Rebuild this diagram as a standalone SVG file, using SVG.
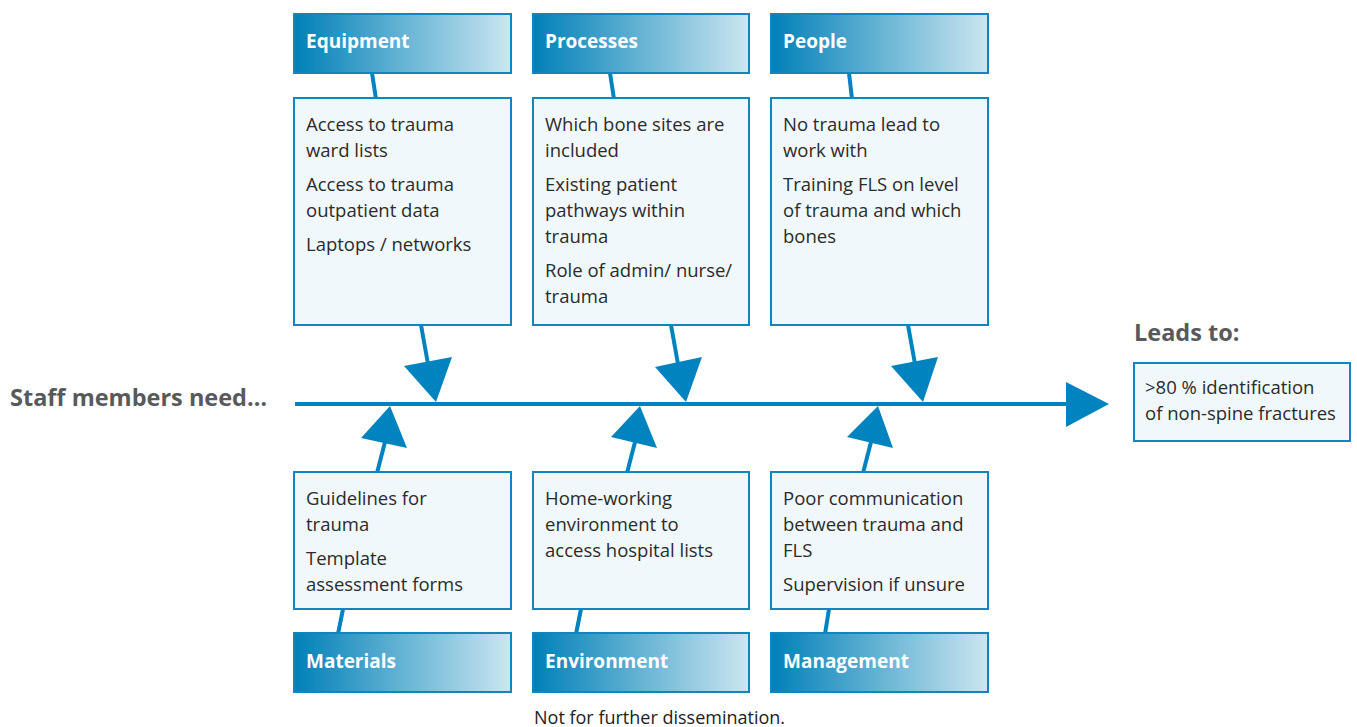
<svg xmlns="http://www.w3.org/2000/svg" width="1357" height="727" viewBox="0 0 1357 727">
<defs>
<linearGradient id="hg" x1="0" y1="0" x2="1" y2="0">
<stop offset="0" stop-color="#0080B8"/>
<stop offset="1" stop-color="#CBE6F0"/>
</linearGradient>
<style>
.hdr{fill:url(#hg);stroke:#1186BE;stroke-width:2}
.body{fill:#F0F8FB;stroke:#1186BE;stroke-width:2}
.ht{font-family:"Open Sans","Liberation Sans",sans-serif;font-weight:700;font-size:19px;fill:#fff}
.bt{font-family:"Open Sans","Liberation Sans",sans-serif;font-size:18.5px;fill:#2b2b2b}
.lbl{font-family:"Open Sans","Liberation Sans",sans-serif;font-weight:700;font-size:23.5px;fill:#58595b}
.ln{stroke:#0083BE;stroke-width:4;fill:none}
.ah{fill:#0083BE}
</style>
</defs>
<g id="connectors">
<line class="ln" x1="295" y1="404" x2="1072" y2="404"/>
<polygon class="ah" points="1066,382 1109,404 1066,427"/>
<line class="ln" x1="372" y1="73" x2="376" y2="99"/>
<line class="ln" x1="610" y1="73" x2="614" y2="99"/>
<line class="ln" x1="849" y1="73" x2="852" y2="99"/>
<line class="ln" x1="421" y1="325" x2="428" y2="364"/>
<polygon class="ah" points="404,366 452,357 436,402"/>
<line class="ln" x1="671" y1="325" x2="678" y2="364"/>
<polygon class="ah" points="655,367 702,357 686,402"/>
<line class="ln" x1="908" y1="325" x2="915" y2="364"/>
<polygon class="ah" points="891,366 938,357 923,402"/>
<polygon class="ah" points="390,406 361,438 407,448"/>
<line class="ln" x1="385" y1="442" x2="377" y2="473"/>
<polygon class="ah" points="640,406 611,437 657,448"/>
<line class="ln" x1="635" y1="442" x2="627" y2="473"/>
<polygon class="ah" points="878,406 847,437 893,448"/>
<line class="ln" x1="871" y1="442" x2="863" y2="473"/>
<line class="ln" x1="343" y1="609" x2="338" y2="634"/>
<line class="ln" x1="581" y1="609" x2="576" y2="634"/>
<line class="ln" x1="829" y1="609" x2="825" y2="634"/>
</g>
<g id="equipment">
<rect class="hdr" x="294" y="14" width="217" height="59"/>
<text class="ht" x="306" y="48">Equipment</text>
<rect class="body" x="294" y="98" width="217" height="227"/>
<text class="bt" x="306"><tspan x="306" y="131">Access to trauma</tspan><tspan x="306" y="157">ward lists</tspan><tspan x="306" y="191">Access to trauma</tspan><tspan x="306" y="217">outpatient data</tspan><tspan x="306" y="251">Laptops / networks</tspan></text>
</g>
<g id="processes">
<rect class="hdr" x="533" y="14" width="216" height="59"/>
<text class="ht" x="545" y="48">Processes</text>
<rect class="body" x="533" y="98" width="216" height="227"/>
<text class="bt"><tspan x="545" y="131">Which bone sites are</tspan><tspan x="545" y="157">included</tspan><tspan x="545" y="191">Existing patient</tspan><tspan x="545" y="217">pathways within</tspan><tspan x="545" y="243">trauma</tspan><tspan x="545" y="277">Role of admin/ nurse/</tspan><tspan x="545" y="303">trauma</tspan></text>
</g>
<g id="people">
<rect class="hdr" x="771" y="14" width="217" height="59"/>
<text class="ht" x="783" y="48">People</text>
<rect class="body" x="771" y="98" width="217" height="227"/>
<text class="bt"><tspan x="783" y="131">No trauma lead to</tspan><tspan x="783" y="157">work with</tspan><tspan x="783" y="191">Training FLS on level</tspan><tspan x="783" y="217">of trauma and which</tspan><tspan x="783" y="243">bones</tspan></text>
</g>
<g id="materials">
<rect class="body" x="294" y="472" width="217" height="137"/>
<text class="bt"><tspan x="306" y="505">Guidelines for</tspan><tspan x="306" y="531">trauma</tspan><tspan x="306" y="565">Template</tspan><tspan x="306" y="591">assessment forms</tspan></text>
<rect class="hdr" x="294" y="633" width="217" height="59"/>
<text class="ht" x="306" y="668">Materials</text>
</g>
<g id="environment">
<rect class="body" x="533" y="472" width="216" height="137"/>
<text class="bt"><tspan x="545" y="505">Home-working</tspan><tspan x="545" y="531">environment to</tspan><tspan x="545" y="557">access hospital lists</tspan></text>
<rect class="hdr" x="533" y="633" width="216" height="59"/>
<text class="ht" x="545" y="668">Environment</text>
</g>
<g id="management">
<rect class="body" x="771" y="472" width="217" height="137"/>
<text class="bt"><tspan x="783" y="505">Poor communication</tspan><tspan x="783" y="531">between trauma and</tspan><tspan x="783" y="557">FLS</tspan><tspan x="783" y="591">Supervision if unsure</tspan></text>
<rect class="hdr" x="771" y="633" width="217" height="59"/>
<text class="ht" x="783" y="668">Management</text>
</g>
<g id="start">
<text class="lbl" x="10" y="406">Staff members need…</text>
</g>
<g id="result">
<text class="lbl" x="1134" y="341">Leads to:</text>
<rect class="body" x="1134" y="363" width="216" height="78"/>
<text class="bt"><tspan x="1145" y="394">&gt;80 % identification</tspan><tspan x="1145" y="420">of non-spine fractures</tspan></text>
</g>
<text x="534" y="724" font-family="'Open Sans','Liberation Sans',sans-serif" font-size="18" fill="#222">Not for further dissemination.</text>
</svg>
